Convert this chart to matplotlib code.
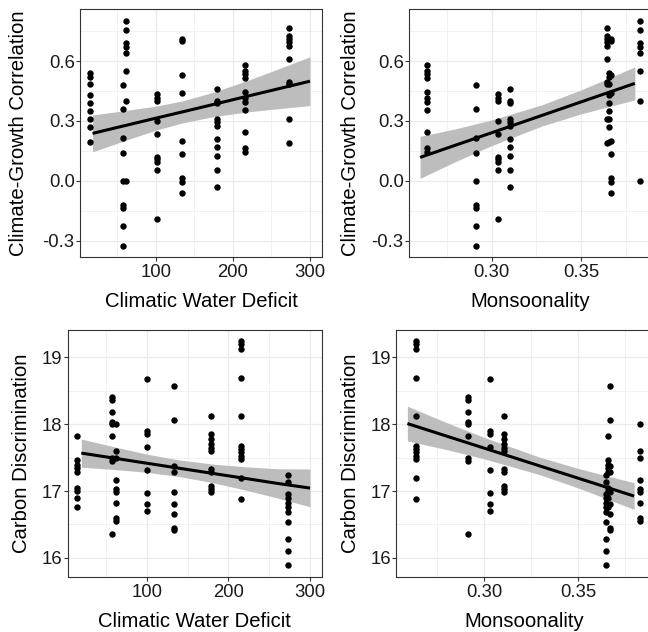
import matplotlib
matplotlib.use('Agg')
import matplotlib.pyplot as plt
from matplotlib.ticker import FormatStrFormatter

plt.rcParams['font.family'] = ['Liberation Sans', 'DejaVu Sans']
plt.rcParams['axes.unicode_minus'] = False

# ---------------- data ----------------
# sites: climatic water deficit and monsoonality
site_cwd = [15, 57, 62, 101, 134, 179, 216, 273]
site_mons = [0.3658, 0.2915, 0.3830, 0.3033, 0.3670, 0.3105, 0.2637, 0.3646]

# climate-growth correlation per site
cgc_site15 = [0.54, 0.52, 0.485, 0.43, 0.39, 0.35, 0.31, 0.27, 0.195]
cgc_site57 = [0.48, 0.36, 0.217, 0.14, 0.0, -0.122, -0.135, -0.225, -0.325]
cgc_site62 = [0.80, 0.755, 0.69, 0.67, 0.64, 0.55, 0.40, 0.0]
cgc_site101 = [0.433, 0.415, 0.40, 0.30, 0.233, 0.12, 0.108, 0.097, 0.057, -0.19]
cgc_site134 = [0.71, 0.70, 0.53, 0.44, 0.20, 0.137, 0.015, -0.003, -0.062]
cgc_site179 = [0.46, 0.40, 0.39, 0.31, 0.295, 0.275, 0.212, 0.172, 0.125, 0.057, -0.03]
cgc_site216 = [0.58, 0.55, 0.535, 0.515, 0.443, 0.413, 0.395, 0.355, 0.245, 0.165, 0.145]
cgc_site273 = [0.763, 0.727, 0.712, 0.697, 0.677, 0.61, 0.497, 0.485, 0.308, 0.19]

# carbon discrimination per site
cd_site15 = [17.82, 17.46, 17.39, 17.35, 17.29, 17.04, 17.0, 16.89, 16.76]
cd_site57 = [18.41, 18.36, 18.18, 18.03, 18.0, 17.82, 17.49, 17.45, 16.36]
cd_site62 = [18.0, 17.6, 17.49, 17.16, 17.03, 16.99, 16.82, 16.59, 16.55]
cd_site101 = [18.67, 17.90, 17.86, 17.66, 17.32, 16.97, 16.81, 16.70]
cd_site134 = [18.57, 18.07, 17.38, 17.28, 16.99, 16.81, 16.65, 16.45, 16.42]
cd_site179 = [18.13, 17.85, 17.78, 17.70, 17.65, 17.60, 17.33, 17.28, 17.08, 17.03, 16.98]
cd_site216 = [19.25, 19.20, 19.13, 18.69, 18.12, 17.67, 17.63, 17.58, 17.53, 17.48, 17.20, 16.88]
cd_site273 = [17.24, 17.14, 16.95, 16.90, 16.82, 16.76, 16.69, 16.54, 16.28, 16.10, 15.89]

cgc_by_site = [cgc_site15, cgc_site57, cgc_site62, cgc_site101,
               cgc_site134, cgc_site179, cgc_site216, cgc_site273]
cd_by_site = [cd_site15, cd_site57, cd_site62, cd_site101,
              cd_site134, cd_site179, cd_site216, cd_site273]

# fitted lines and confidence bands
fit1_x = [18, 60, 100, 135, 175, 220, 260, 300]
fit1_y = [0.238, 0.277, 0.314, 0.346, 0.383, 0.425, 0.462, 0.499]
fit1_lo = [0.146, 0.202, 0.254, 0.291, 0.322, 0.346, 0.362, 0.377]
fit1_hi = [0.330, 0.352, 0.374, 0.401, 0.444, 0.504, 0.562, 0.621]

fit2_x = [0.2599, 0.28, 0.30, 0.3283, 0.35, 0.365, 0.3802]
fit2_y = [0.118, 0.1798, 0.2413, 0.3284, 0.3952, 0.4413, 0.488]
fit2_lo = [0.013, 0.0982, 0.1770, 0.2754, 0.3353, 0.3704, 0.4055]
fit2_hi = [0.223, 0.2614, 0.3056, 0.3814, 0.4551, 0.5122, 0.5705]

fit3_x = [20, 60, 100, 138, 180, 220, 260, 300]
fit3_y = [17.568, 17.493, 17.417, 17.345, 17.266, 17.191, 17.115, 17.045]
fit3_lo = [17.358, 17.323, 17.281, 17.221, 17.128, 17.018, 16.896, 16.765]
fit3_hi = [17.778, 17.663, 17.553, 17.469, 17.405, 17.364, 17.334, 17.330]

fit4_x = [0.2592, 0.28, 0.30, 0.3293, 0.35, 0.365, 0.3798]
fit4_y = [18.01, 17.823, 17.643, 17.379, 17.193, 17.058, 16.925]
fit4_lo = [17.75, 17.621, 17.483, 17.248, 17.047, 16.886, 16.725]
fit4_hi = [18.27, 18.025, 17.803, 17.51, 17.339, 17.23, 17.125]

# ---------------- figure ----------------
W, H = 648, 632
fig = plt.figure(figsize=(W / 100, H / 100), dpi=100)


def make_ax(l, r, t, b):
    return fig.add_axes([l / W, 1 - b / H, (r - l) / W, (b - t) / H])


GRID = '#EBEBEB'
DARK = '#333333'


def style(ax, xmaj, xmin, ymaj, ymin, xfmt, yfmt, xlim, ylim, xlabel, ylabel,
          xlab_y, ylab_x):
    ax.set_xlim(*xlim)
    ax.set_ylim(*ylim)
    ax.set_xticks(xmaj)
    ax.set_xticks(xmin, minor=True)
    ax.set_yticks(ymaj)
    ax.set_yticks(ymin, minor=True)
    ax.xaxis.set_major_formatter(FormatStrFormatter(xfmt))
    ax.yaxis.set_major_formatter(FormatStrFormatter(yfmt))
    ax.grid(which='major', color=GRID, linewidth=0.9, zorder=0)
    ax.grid(which='minor', color=GRID, linewidth=0.5, zorder=0)
    ax.set_axisbelow(True)
    ax.tick_params(which='major', length=2.6, width=0.8, color=DARK,
                   labelsize=13.3, labelcolor='#1A1A1A')
    ax.tick_params(axis='x', which='major', pad=2.2)
    ax.tick_params(axis='y', which='major', pad=1.2)
    ax.tick_params(which='minor', length=0)
    for s in ax.spines.values():
        s.set_color(DARK)
        s.set_linewidth(0.8)
    ax.set_xlabel(xlabel, fontsize=14.6, color='black')
    ax.set_ylabel(ylabel, fontsize=14.6, color='black')
    ax.xaxis.label.set_va('center')
    ax.yaxis.label.set_va('center')
    ax.xaxis.set_label_coords(0.5, xlab_y)
    ax.yaxis.set_label_coords(ylab_x, 0.5)


def draw(ax, xs, ys, fx, fy, flo, fhi):
    ax.fill_between(fx, flo, fhi, color='#BDBDBD', linewidth=0, zorder=2)
    for x, vals in zip(xs, ys):
        ax.plot([x] * len(vals), vals, 'o', color='black', markersize=4.6,
                markeredgewidth=0, zorder=3)
    ax.plot(fx, fy, color='black', linewidth=2.2, zorder=4,
            solid_capstyle='butt')


# top-left
ax1 = make_ax(80, 322, 9, 257)
draw(ax1, site_cwd, cgc_by_site, fit1_x, fit1_y, fit1_lo, fit1_hi)
style(ax1, [100, 200, 300], [50, 150, 250], [-0.3, 0.0, 0.3, 0.6],
      [-0.15, 0.15, 0.45, 0.75], '%d', '%.1f', (1.7, 315.6), (-0.38, 0.86),
      'Climatic Water Deficit', 'Climate-Growth Correlation', -0.180, -0.255)

# top-right
ax2 = make_ax(409, 652, 9, 257)
draw(ax2, site_mons, cgc_by_site, fit2_x, fit2_y, fit2_lo, fit2_hi)
style(ax2, [0.30, 0.35], [0.275, 0.325, 0.375], [-0.3, 0.0, 0.3, 0.6],
      [-0.15, 0.15, 0.45, 0.75], '%.2f', '%.1f', (0.2537, 0.3898),
      (-0.38, 0.86), 'Monsoonality', 'Climate-Growth Correlation', -0.180,
      -0.240)

# bottom-left
ax3 = make_ax(67.7, 321.7, 330, 577.3)
draw(ax3, site_cwd, cd_by_site, fit3_x, fit3_y, fit3_lo, fit3_hi)
style(ax3, [100, 200, 300], [50, 150, 250], [16, 17, 18, 19],
      [16.5, 17.5, 18.5], '%d', '%d', (3.3, 314.3), (15.71, 19.41),
      'Climatic Water Deficit', 'Carbon Discrimination', -0.177, -0.181)

# bottom-right
ax4 = make_ax(396.3, 652, 330, 577.3)
draw(ax4, site_mons, cd_by_site, fit4_x, fit4_y, fit4_lo, fit4_hi)
style(ax4, [0.30, 0.35], [0.275, 0.325, 0.375], [16, 17, 18, 19],
      [16.5, 17.5, 18.5], '%.2f', '%d', (0.2533, 0.3893), (15.71, 19.41),
      'Monsoonality', 'Carbon Discrimination', -0.177, -0.178)

fig.savefig('out.png', dpi=100, facecolor='white')
